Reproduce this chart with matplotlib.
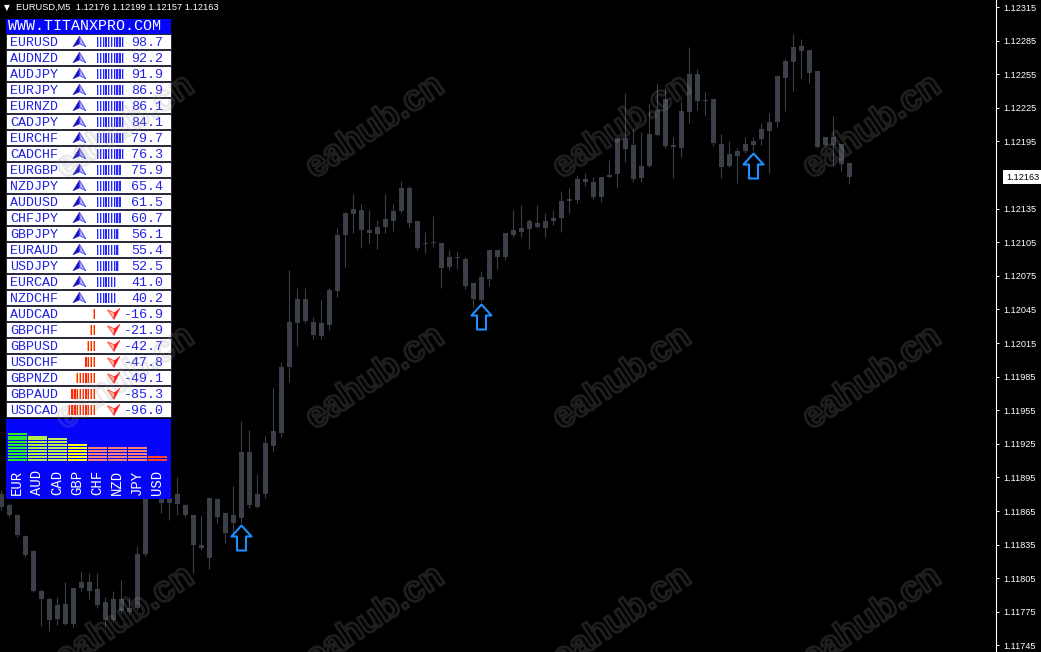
import matplotlib
matplotlib.use('Agg')
import matplotlib.pyplot as plt
from matplotlib.patches import Rectangle, Polygon
from matplotlib.path import Path
from matplotlib.transforms import blended_transform_factory
import matplotlib.patheffects as pe
import numpy as np

plt.rcParams['font.family'] = ['Liberation Sans', 'DejaVu Sans']

# ---------------- chart data (EURUSD, M5) ----------------
opens = [1.11880, 1.11870, 1.11861, 1.11843, 1.11829, 1.11794, 1.11786, 1.11769, 1.11782, 1.11764,
         1.11796, 1.11802, 1.11795, 1.11784, 1.11768, 1.11786, 1.11775, 1.11778, 1.11827, 1.11886,
         1.11880, 1.11872, 1.11880, 1.11870, 1.11861, 1.11835, 1.11823, 1.11876, 1.11863, 1.11854,
         1.11859, 1.11918, 1.11869, 1.11880, 1.11923, 1.11935, 1.11994, 1.12033, 1.12054, 1.12034,
         1.12021, 1.12031, 1.12061, 1.12111, 1.12130, 1.12134, 1.12116, 1.12112, 1.12119, 1.12124,
         1.12133, 1.12153, 1.12124, 1.12104, 1.12104, 1.12104, 1.12083, 1.12092, 1.12090, 1.12069,
         1.12053, 1.12072, 1.12098, 1.12092, 1.12111, 1.12114, 1.12117, 1.12122, 1.12118, 1.12124,
         1.12127, 1.12142, 1.12143, 1.12161, 1.12159, 1.12145, 1.12163, 1.12166, 1.12198, 1.12192,
         1.12162, 1.12173, 1.12201, 1.12233, 1.12192, 1.12189, 1.12221, 1.12255, 1.12232, 1.12233,
         1.12193, 1.12173, 1.12182, 1.12186, 1.12192, 1.12197, 1.12204, 1.12212, 1.12252, 1.12266,
         1.12280, 1.12277, 1.12258, 1.12192, 1.12199, 1.12193, 1.12176]
highs = [1.11884, 1.11872, 1.11862, 1.11844, 1.11830, 1.11795, 1.11788, 1.11788, 1.11802, 1.11796,
         1.11811, 1.11810, 1.11810, 1.11788, 1.11794, 1.11803, 1.11788, 1.11834, 1.11890, 1.11893,
         1.11884, 1.11877, 1.11895, 1.11871, 1.11861, 1.11861, 1.11877, 1.11877, 1.11863, 1.11887,
         1.11945, 1.11937, 1.11898, 1.11932, 1.11975, 1.11998, 1.12080, 1.12064, 1.12064, 1.12038,
         1.12054, 1.12064, 1.12118, 1.12132, 1.12148, 1.12139, 1.12134, 1.12125, 1.12148, 1.12139,
         1.12160, 1.12155, 1.12124, 1.12114, 1.12128, 1.12104, 1.12098, 1.12097, 1.12092, 1.12069,
         1.12079, 1.12098, 1.12098, 1.12113, 1.12134, 1.12138, 1.12126, 1.12138, 1.12131, 1.12134,
         1.12151, 1.12153, 1.12165, 1.12167, 1.12163, 1.12163, 1.12178, 1.12199, 1.12238, 1.12206,
         1.12203, 1.12229, 1.12247, 1.12243, 1.12199, 1.12231, 1.12279, 1.12260, 1.12239, 1.12233,
         1.12202, 1.12195, 1.12189, 1.12199, 1.12199, 1.12211, 1.12220, 1.12253, 1.12269, 1.12291,
         1.12286, 1.12277, 1.12258, 1.12199, 1.12218, 1.12193, 1.12176]
lows = [1.11866, 1.11860, 1.11842, 1.11824, 1.11793, 1.11762, 1.11758, 1.11763, 1.11763, 1.11761,
        1.11794, 1.11786, 1.11778, 1.11761, 1.11766, 1.11774, 1.11773, 1.11777, 1.11825, 1.11877,
        1.11863, 1.11857, 1.11861, 1.11860, 1.11810, 1.11830, 1.11813, 1.11854, 1.11836, 1.11845,
        1.11854, 1.11868, 1.11868, 1.11877, 1.11918, 1.11931, 1.11980, 1.12012, 1.12033, 1.12019,
        1.12019, 1.12027, 1.12056, 1.12083, 1.12113, 1.12100, 1.12103, 1.12099, 1.12113, 1.12115,
        1.12131, 1.12118, 1.12098, 1.12095, 1.12101, 1.12064, 1.12080, 1.12081, 1.12063, 1.12047,
        1.12052, 1.12066, 1.12081, 1.12089, 1.12110, 1.12110, 1.12099, 1.12118, 1.12110, 1.12120,
        1.12114, 1.12131, 1.12140, 1.12155, 1.12144, 1.12141, 1.12162, 1.12153, 1.12177, 1.12159,
        1.12159, 1.12172, 1.12200, 1.12189, 1.12162, 1.12181, 1.12211, 1.12223, 1.12218, 1.12191,
        1.12162, 1.12172, 1.12158, 1.12185, 1.12186, 1.12192, 1.12167, 1.12208, 1.12222, 1.12240,
        1.12252, 1.12247, 1.12189, 1.12190, 1.12173, 1.12169, 1.12157]
closes = [1.11869, 1.11861, 1.11844, 1.11826, 1.11794, 1.11786, 1.11768, 1.11781, 1.11764, 1.11796,
          1.11802, 1.11794, 1.11781, 1.11768, 1.11786, 1.11776, 1.11778, 1.11827, 1.11886, 1.11881,
          1.11872, 1.11876, 1.11871, 1.11861, 1.11835, 1.11832, 1.11877, 1.11860, 1.11845, 1.11861,
          1.11918, 1.11870, 1.11880, 1.11926, 1.11936, 1.11994, 1.12034, 1.12054, 1.12035, 1.12022,
          1.12033, 1.12062, 1.12111, 1.12131, 1.12135, 1.12116, 1.12113, 1.12119, 1.12126, 1.12133,
          1.12153, 1.12122, 1.12100, 1.12103, 1.12104, 1.12082, 1.12092, 1.12091, 1.12066, 1.12054,
          1.12074, 1.12098, 1.12092, 1.12113, 1.12116, 1.12118, 1.12124, 1.12119, 1.12124, 1.12127,
          1.12142, 1.12144, 1.12161, 1.12159, 1.12145, 1.12163, 1.12165, 1.12198, 1.12188, 1.12161,
          1.12173, 1.12202, 1.12223, 1.12191, 1.12190, 1.12222, 1.12255, 1.12231, 1.12231, 1.12194,
          1.12172, 1.12184, 1.12186, 1.12193, 1.12195, 1.12206, 1.12212, 1.12253, 1.12267, 1.12279,
          1.12276, 1.12256, 1.12190, 1.12199, 1.12192, 1.12175, 1.12163]
signal_bars = [30, 60, 94]          # candles with a buy arrow below them
price_ticks = [1.11745, 1.11775, 1.11805, 1.11835, 1.11865, 1.11895, 1.11925, 1.11955, 1.11985,
               1.12015, 1.12045, 1.12075, 1.12105, 1.12135, 1.12195, 1.12225, 1.12255,
               1.12285, 1.12315]
header_text = 'EURUSD,M5  1.12176 1.12199 1.12157 1.12163'

# ---------------- strength panel data ----------------
pairs = ['EURUSD', 'AUDNZD', 'AUDJPY', 'EURJPY', 'EURNZD', 'CADJPY', 'EURCHF', 'CADCHF',
         'EURGBP', 'NZDJPY', 'AUDUSD', 'CHFJPY', 'GBPJPY', 'EURAUD', 'USDJPY', 'EURCAD',
         'NZDCHF', 'AUDCAD', 'GBPCHF', 'GBPUSD', 'USDCHF', 'GBPNZD', 'GBPAUD', 'USDCAD']
pair_strength = [98.7, 92.2, 91.9, 86.9, 86.1, 84.1, 79.7, 76.3, 75.9, 65.4, 61.5, 60.7,
                 56.1, 55.4, 52.5, 41.0, 40.2, -16.9, -21.9, -42.7, -47.8, -49.1, -85.3, -96.0]
pair_bars = [10, 10, 10, 10, 10, 10, 10, 10, 9, 9, 9, 9, 8, 8, 8, 7, 7,
             1, 2, 3, 4, 7, 9, 10]
currencies = ['EUR', 'AUD', 'CAD', 'GBP', 'CHF', 'NZD', 'JPY', 'USD']
currency_levels = [10, 9, 8, 6, 5, 5, 5, 2]
currency_colors = ['#2ee82e', '#b4ec4a', '#c4ec5a', '#ffff1e', '#fa8070', '#fa8070', '#fa8070', '#ff4422']

W, H = 1041, 652
CANDLE = '#3b4048'

fig = plt.figure(figsize=(W / 100, H / 100), dpi=100, facecolor='black')
ax = fig.add_axes([0, 0, 996 / W, 1])
ax.set_facecolor('black')

o = np.array(opens); h = np.array(highs); l = np.array(lows); c = np.array(closes)
x = np.arange(len(o))
ax.vlines(x, l, h, color=CANDLE, lw=0.8, zorder=2)
body_lo = np.minimum(o, c)
body_h = np.maximum(np.abs(c - o), 0.000009)
ax.bar(x, body_h, bottom=body_lo, width=0.62, color=CANDLE, lw=0, zorder=3)

# buy arrows (hollow up arrows) below signal candles
arrow_path = Path([(0, -2), (10, -13), (4.5, -13), (4.5, -27), (-4.5, -27), (-4.5, -13), (-10, -13), (0, -2)],
                  [Path.MOVETO] + [Path.LINETO] * 6 + [Path.CLOSEPOLY])
sx = np.array(signal_bars)
ax.plot(sx, l[sx], linestyle='none', marker=arrow_path, markersize=54 * 0.72,
        markerfacecolor='none', markeredgecolor='#1e90ff', markeredgewidth=1.5, zorder=4)

ax.set_xlim(-1.3 / 8, (996 - 1.3) / 8)
ax.set_ylim(1.1173911, 1.1232125)
for s in ['left', 'top', 'bottom']:
    ax.spines[s].set_visible(False)
ax.spines['right'].set_color('white')
ax.spines['right'].set_linewidth(0.8)
ax.set_xticks([])
ax.yaxis.tick_right()
ax.set_yticks(price_ticks)
ax.set_yticklabels([f'{t:.5f}' for t in price_ticks])
ax.tick_params(axis='y', length=2.5, width=0.7, color='white', pad=2.5, labelsize=6.6, labelcolor='white')

# current price label
tr = blended_transform_factory(ax.transAxes, ax.transData)
ax.text(1006 / 996, closes[-1], f'{closes[-1]:.5f}', transform=tr, ha='left', va='center',
        fontsize=6.6, color='black', clip_on=False,
        bbox=dict(boxstyle='square,pad=0.3', fc='white', ec='none'))

# ---------------- overlay (pixel coordinates) ----------------
ov = fig.add_axes([0, 0, 1, 1], zorder=5)
ov.set_xlim(0, W)
ov.set_ylim(H, 0)
ov.axis('off')
ov.patch.set_alpha(0)

ov.text(4, 7.5, '\u25bc', color='white', fontsize=5.5, ha='left', va='center',
        family=['DejaVu Sans'])
ov.text(16, 7.5, header_text, color='white', fontsize=6.7, ha='left', va='center')

BLUE = '#0505fa'
MONO = 'Liberation Mono'
ov.add_patch(Rectangle((6, 19), 165, 14.5, fc=BLUE, ec='none'))
ov.text(7.5, 30.2, 'WWW.TITANXPRO.COM', color='white', family=MONO, fontsize=10.8,
        ha='left', va='baseline')

TXT = '#2323e6'
for i, (pair, val, nb) in enumerate(zip(pairs, pair_strength, pair_bars)):
    y0 = 34 + 16 * i
    ov.add_patch(Rectangle((6, y0), 165, 15, fc='white', ec='#1c1c30', lw=0.6))
    ov.text(10, y0 + 11.8, pair, color=TXT, family=MONO, fontsize=9.6, ha='left', va='baseline')
    ov.text(163.5, y0 + 11.8, f'{val:.1f}', color=TXT, family=MONO, fontsize=9.6,
            ha='right', va='baseline')
    cy = y0 + 7.8
    if val >= 0:
        cx = 79.5
        ov.add_patch(Polygon([(cx, cy - 5.5), (cx, cy + 2), (cx - 6.5, cy + 5)], closed=True,
                             fc='#1414c0', ec='#1414c0', lw=0.4))
        ov.add_patch(Polygon([(cx, cy - 5.5), (cx + 6.5, cy + 5), (cx, cy + 2)], closed=True,
                             fc='#a8a8ff', ec='#3535e8', lw=0.5))
        for j in range(nb):
            bx = 97 + j * 2.78
            ov.add_patch(Rectangle((bx, y0 + 3.3), 1.3, 9.4, fc='#2626ff', ec='none'))
            ov.add_patch(Rectangle((bx + 1.3, y0 + 3.3), 0.8, 9.4, fc='#b8b8ff', ec='none'))
    else:
        cx = 113.5
        ov.add_patch(Polygon([(cx + 0.5, cy + 5.5), (cx - 6, cy - 4), (cx + 1, cy - 1)], closed=True,
                             fc='#ffb8a8', ec='#ff2020', lw=0.5))
        ov.add_patch(Polygon([(cx + 0.5, cy + 5.5), (cx + 1, cy - 1), (cx + 6.5, cy - 5.5)], closed=True,
                             fc='#ff1a1a', ec='#ff1a1a', lw=0.4))
        for j in range(nb):
            bx = 95 - 1.3 - j * 2.78
            ov.add_patch(Rectangle((bx, y0 + 3.3), 1.3, 9.4, fc='#ff2020', ec='none'))
            ov.add_patch(Rectangle((bx - 0.8, y0 + 3.3), 0.8, 9.4, fc='#ffb050', ec='none'))

# currency strength box
ov.add_patch(Rectangle((6, 419), 165, 79.5, fc=BLUE, ec='none'))
for i, (cur, lev, col) in enumerate(zip(currencies, currency_levels, currency_colors)):
    x0 = 7.5 + 20 * i
    for j in range(lev):
        ov.add_patch(Rectangle((x0, 461 - 2 - j * 2.93), 19, 2, fc=col, ec='none'))
    ov.text(x0 + 9.8, 482.5, cur, rotation=90, color='white', family=MONO, fontsize=10,
            ha='center', va='center')

# watermarks (faint outlined text)
for wx in [125, 375, 622, 872]:
    for wy in [127, 378, 618]:
        t = ov.text(wx, wy, 'eahub.cn', rotation=34, ha='center', va='center', fontsize=26,
                    fontweight='bold', color=(0, 0, 0, 0))
        t.set_path_effects([pe.withStroke(linewidth=2.0, foreground=(0.6, 0.6, 0.6, 0.2))])

fig.savefig('out.png', dpi=100, facecolor='black')
